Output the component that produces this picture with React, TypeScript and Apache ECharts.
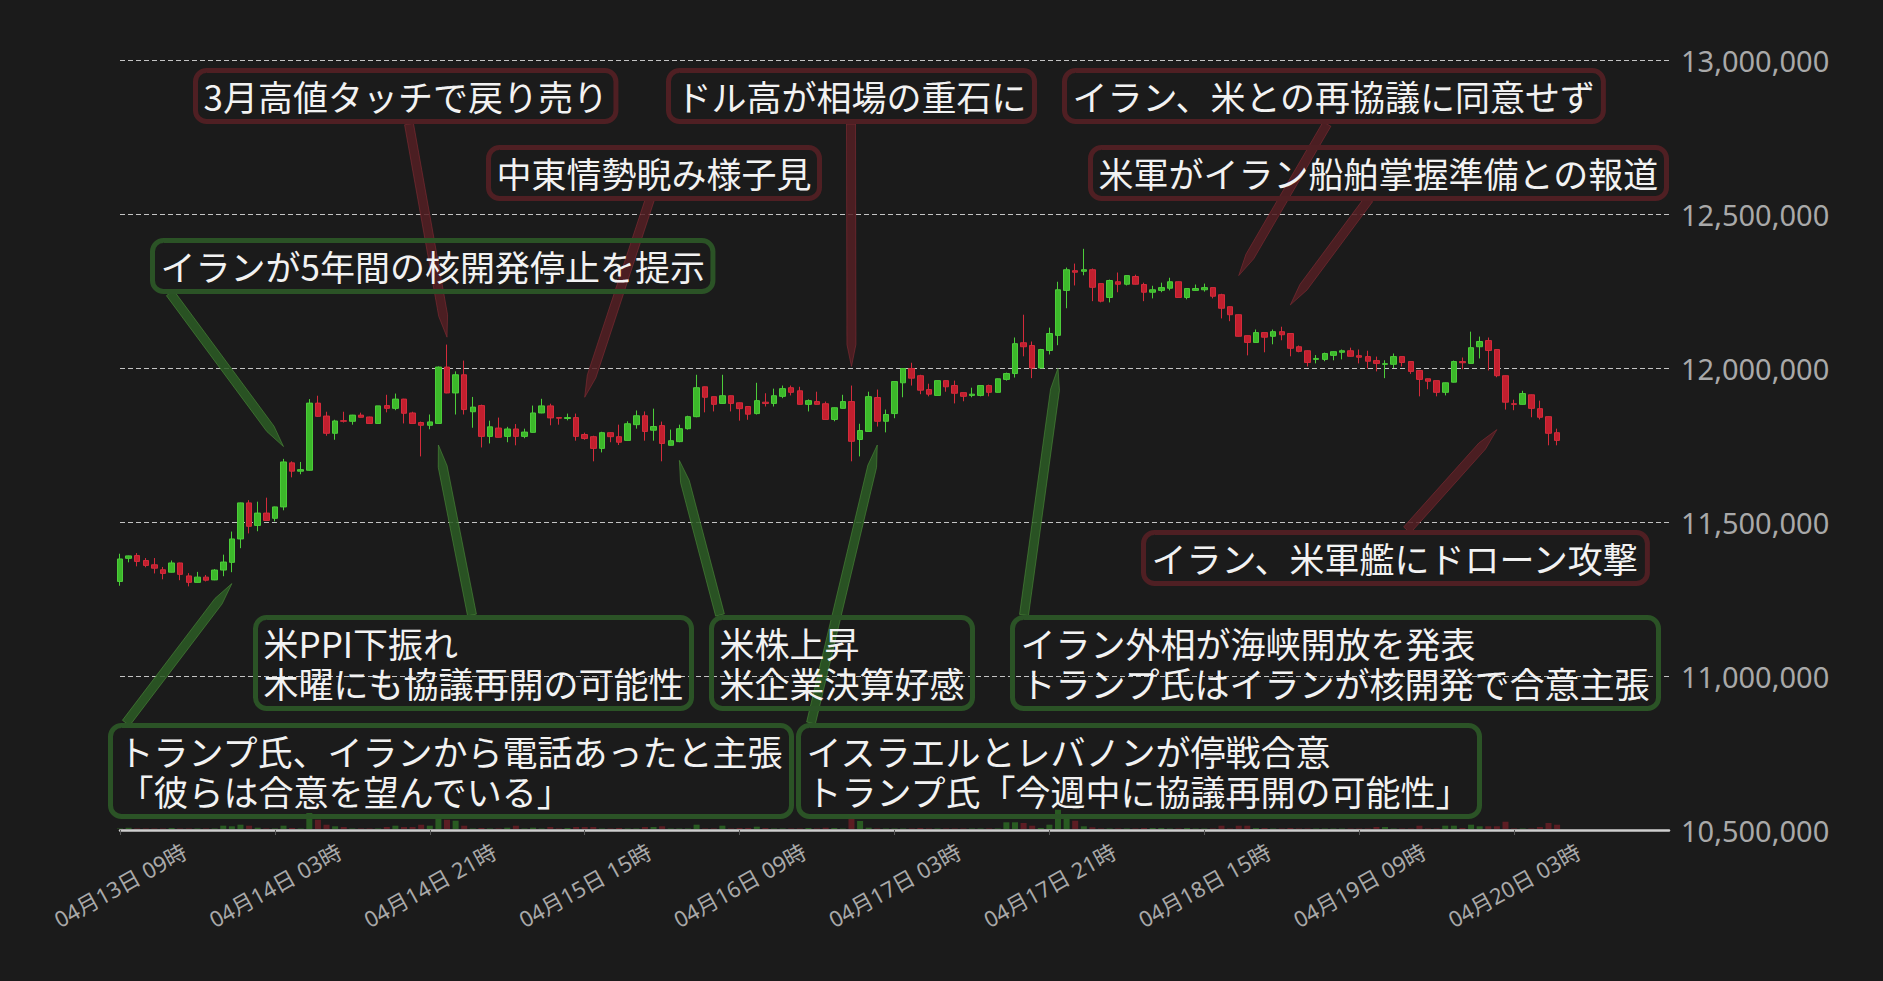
import React, { useEffect, useRef } from "react";
import * as echarts from "echarts";

// ---- time axis (hourly) ----
const MONTH = 4;
const START_DAY = 13;
const START_HOUR = 9;
const AXIS_HOURS = 181;
const LABEL_EVERY = 18;

// ---- OHLC (thousand yen) ----
const PRICE_UNIT = 1000;
const OPEN_K = [
  11307, 11382, 11391, 11375, 11361, 11345, 11337, 11367, 11325, 11304,
  11321, 11312, 11344, 11369, 11445, 11562, 11489, 11529, 11512, 11549,
  11692, 11665, 11668, 11886, 11844, 11788, 11829, 11827, 11847, 11841,
  11820, 11878, 11869, 11899, 11854, 11823, 11814, 11820, 12003, 11919,
  11978, 11858, 11878, 11778, 11805, 11778, 11802, 11778, 11791, 11854,
  11877, 11839, 11836, 11839, 11784, 11777, 11739, 11790, 11777, 11765,
  11816, 11845, 11798, 11813, 11749, 11761, 11803, 11842, 11939, 11907,
  11885, 11910, 11887, 11875, 11852, 11889, 11885, 11908, 11936, 11926,
  11882, 11891, 11884, 11833, 11869, 11891, 11768, 11794, 11904, 11827,
  11852, 11952, 11998, 11975, 11930, 11911, 11959, 11943, 11920, 11911,
  11911, 11943, 11921, 11963, 11982, 12082, 12073, 12000, 12057, 12106,
  12252, 12316, 12314, 12319, 12274, 12229, 12280, 12272, 12297, 12271,
  12246, 12252, 12259, 12280, 12229, 12252, 12254, 12261, 12238, 12199,
  12173, 12105, 12083, 12115, 12103, 12118, 12112, 12069, 12056, 12028,
  12028, 12041, 12051, 12056, 12040, 12037, 12024, 12012, 12012, 12037,
  12021, 11992, 11965, 11959, 11921, 11954, 12021, 12015, 12069, 12089,
  12060, 11975, 11884, 11882, 11913, 11868, 11842, 11790,
];
const CLOSE_K = [
  11380, 11390, 11372, 11359, 11350, 11333, 11367, 11330, 11304, 11321,
  11311, 11344, 11370, 11445, 11562, 11486, 11529, 11505, 11549, 11695,
  11665, 11670, 11886, 11843, 11788, 11828, 11827, 11847, 11840, 11820,
  11877, 11869, 11899, 11853, 11820, 11814, 11825, 12003, 11919, 11978,
  11865, 11873, 11778, 11809, 11775, 11802, 11778, 11792, 11854, 11877,
  11838, 11837, 11839, 11778, 11771, 11739, 11790, 11777, 11759, 11819,
  11845, 11794, 11810, 11755, 11764, 11803, 11842, 11936, 11905, 11882,
  11910, 11885, 11868, 11850, 11894, 11885, 11910, 11933, 11921, 11882,
  11894, 11882, 11833, 11871, 11891, 11762, 11797, 11907, 11827, 11849,
  11956, 11998, 11967, 11928, 11915, 11959, 11939, 11918, 11908, 11915,
  11943, 11921, 11965, 11982, 12079, 12069, 12000, 12060, 12112, 12254,
  12319, 12311, 12319, 12262, 12217, 12284, 12272, 12300, 12272, 12246,
  12254, 12261, 12280, 12229, 12258, 12258, 12261, 12233, 12194, 12173,
  12103, 12083, 12115, 12100, 12118, 12108, 12064, 12054, 12018, 12031,
  12047, 12053, 12056, 12038, 12035, 12022, 12015, 12014, 12037, 12018,
  11989, 11963, 11957, 11921, 11952, 12021, 12017, 12066, 12086, 12057,
  11975, 11889, 11882, 11917, 11869, 11840, 11788, 11765,
];
const LOW_K = [
  11293, 11369, 11356, 11353, 11333, 11314, 11336, 11311, 11291, 11303,
  11307, 11311, 11324, 11337, 11415, 11463, 11470, 11504, 11502, 11538,
  11645, 11655, 11667, 11841, 11780, 11767, 11823, 11816, 11839, 11819,
  11820, 11856, 11863, 11820, 11819, 11713, 11801, 11819, 11918, 11849,
  11849, 11806, 11742, 11755, 11774, 11759, 11749, 11772, 11790, 11853,
  11814, 11816, 11830, 11764, 11767, 11697, 11726, 11759, 11750, 11764,
  11803, 11764, 11764, 11697, 11748, 11759, 11800, 11840, 11856, 11859,
  11884, 11859, 11829, 11832, 11849, 11875, 11875, 11902, 11911, 11881,
  11859, 11881, 11832, 11827, 11868, 11697, 11713, 11794, 11810, 11791,
  11837, 11905, 11943, 11915, 11908, 11910, 11923, 11885, 11892, 11905,
  11908, 11908, 11920, 11959, 11969, 12038, 11967, 12000, 12044, 12074,
  12194, 12268, 12301, 12217, 12213, 12213, 12246, 12268, 12271, 12217,
  12226, 12246, 12252, 12229, 12223, 12251, 12248, 12226, 12161, 12152,
  12102, 12041, 12083, 12051, 12077, 12090, 12038, 12051, 12005, 12015,
  12022, 12025, 12028, 12037, 12015, 11998, 11989, 11967, 12000, 12005,
  11981, 11908, 11931, 11908, 11911, 11953, 11996, 12015, 12031, 11992,
  11970, 11865, 11863, 11881, 11840, 11833, 11749, 11749,
];
const HIGH_K = [
  11397, 11391, 11399, 11383, 11383, 11354, 11375, 11368, 11334, 11338,
  11328, 11347, 11394, 11469, 11563, 11571, 11566, 11579, 11550, 11705,
  11697, 11695, 11899, 11910, 11858, 11832, 11858, 11848, 11855, 11842,
  11877, 11913, 11917, 11900, 11858, 11826, 11849, 12005, 12076, 11989,
  12024, 11906, 11881, 11829, 11839, 11809, 11818, 11803, 11878, 11900,
  11884, 11839, 11852, 11852, 11790, 11780, 11793, 11791, 11816, 11827,
  11862, 11859, 11868, 11826, 11800, 11816, 11845, 11978, 11940, 11907,
  11978, 11911, 11888, 11875, 11952, 11918, 11933, 11943, 11943, 11939,
  11898, 11923, 11891, 11872, 11913, 11943, 11819, 11923, 11930, 11865,
  11956, 12000, 12017, 11978, 11949, 11959, 11960, 11959, 11920, 11936,
  11943, 11946, 11966, 11985, 12099, 12173, 12086, 12062, 12131, 12280,
  12326, 12339, 12387, 12323, 12275, 12287, 12310, 12300, 12303, 12277,
  12267, 12277, 12293, 12281, 12258, 12271, 12274, 12261, 12241, 12200,
  12174, 12106, 12125, 12115, 12125, 12134, 12112, 12073, 12057, 12042,
  12050, 12054, 12060, 12066, 12060, 12056, 12037, 12025, 12047, 12037,
  12021, 11993, 11966, 11959, 11953, 12024, 12034, 12118, 12102, 12099,
  12060, 11976, 11897, 11926, 11914, 11894, 11843, 11803,
];
const VOLUME = [
  5, 13, 5, 5, 5, 5, 10, 5, 5, 5,
  5, 5, 33, 27, 43, 33, 13, 5, 5, 33,
  10, 5, 160, 93, 43, 27, 20, 5, 5, 5,
  5, 20, 33, 20, 20, 43, 33, 133, 93, 83,
  33, 5, 10, 5, 5, 13, 33, 5, 13, 5,
  20, 5, 10, 20, 20, 20, 5, 5, 10, 5,
  5, 20, 20, 27, 5, 5, 5, 43, 5, 5,
  33, 5, 10, 10, 23, 10, 5, 5, 5, 5,
  10, 5, 13, 10, 5, 110, 80, 13, 5, 5,
  5, 5, 5, 10, 5, 5, 5, 5, 5, 5,
  5, 5, 5, 67, 67, 60, 33, 10, 43, 193,
  110, 83, 27, 17, 5, 5, 5, 5, 5, 10,
  10, 10, 5, 5, 10, 5, 5, 5, 33, 5,
  33, 33, 10, 10, 5, 5, 10, 5, 5, 5,
  5, 5, 5, 5, 5, 5, 20, 20, 5, 5,
  5, 33, 5, 5, 33, 33, 10, 43, 27, 27,
  27, 73, 5, 5, 5, 20, 60, 43,
];

// ---- price axis ----
const Y_MIN = 10500000;
const Y_MAX = 13000000;
const Y_STEP = 500000;
const VOLUME_AXIS_MAX = 1000;

// ---- annotations: target = [hour index, price] ----
type Note = {
  text: string;
  tone: "up" | "down";
  box: [number, number];
  base: [number, number];
  target: [number, number];
};
const NOTES: Note[] = [
  { text: "3月高値タッチで戻り売り", tone: "down", box: [193, 68], base: [409, 124], target: [38, 12100000] },
  { text: "中東情勢睨み様子見", tone: "down", box: [486, 145], base: [650, 199], target: [54, 11905000] },
  { text: "ドル高が相場の重石に", tone: "down", box: [666, 68], base: [851, 124], target: [85, 12005000] },
  { text: "イラン、米との再協議に同意せず", tone: "down", box: [1062, 68], base: [1327, 124], target: [130, 12300000] },
  { text: "米軍がイラン船舶掌握準備との報道", tone: "down", box: [1088, 145], base: [1369, 199], target: [136, 12205000] },
  { text: "イラン、米軍艦にドローン攻撃", tone: "down", box: [1141, 530], base: [1407, 530], target: [160, 11800000] },
  { text: "イランが5年間の核開発停止を提示", tone: "up", box: [150, 238], base: [170, 293], target: [19, 11745000] },
  { text: "米PPI下振れ\n木曜にも協議再開の可能性", tone: "up", box: [253, 615], base: [472, 615], target: [37, 11750000] },
  { text: "米株上昇\n米企業決算好感", tone: "up", box: [709, 615], base: [720, 615], target: [65, 11700000] },
  { text: "イラン外相が海峡開放を発表\nトランプ氏はイランが核開発で合意主張", tone: "up", box: [1010, 615], base: [1024, 615], target: [109, 12000000] },
  { text: "トランプ氏、イランから電話あったと主張\n「彼らは合意を望んでいる」", tone: "up", box: [108, 723], base: [126, 723], target: [13, 11300000] },
  { text: "イスラエルとレバノンが停戦合意\nトランプ氏「今週中に協議再開の可能性」", tone: "up", box: [796, 723], base: [811, 723], target: [88, 11750000] },
];

const BG = "#1b1b1b";
const UP = "#3cb82a";
const UP_BORDER = "#4ccd3a";
const DOWN = "#c21f2e";
const DOWN_BORDER = "#d42b3b";
const TONES = {
  up: { border: "#2b5326", fill: "rgba(44,92,37,0.85)", stroke: "rgba(80,150,60,0.55)" },
  down: { border: "#4f1f23", fill: "rgba(84,30,35,0.85)", stroke: "rgba(140,45,55,0.55)" },
};

const pad2 = (n: number) => (n < 10 ? "0" + n : String(n));
const CATEGORIES: string[] = [];
for (let i = 0; i < AXIS_HOURS; i++) {
  const t = START_HOUR + i;
  const d = START_DAY + Math.floor(t / 24);
  CATEGORIES.push(`${pad2(MONTH)}月${pad2(d)}日 ${pad2(t % 24)}時`);
}

const showTick = (i: number) => i % LABEL_EVERY === 0 && i < AXIS_HOURS - 1;

function buildOption() {
  const candles = OPEN_K.map((o, i) => [
    o * PRICE_UNIT,
    CLOSE_K[i] * PRICE_UNIT,
    LOW_K[i] * PRICE_UNIT,
    HIGH_K[i] * PRICE_UNIT,
  ]);
  const vols = VOLUME.map((v, i) => ({
    value: v,
    itemStyle: {
      color: CLOSE_K[i] >= OPEN_K[i] ? "rgba(60,170,45,0.45)" : "rgba(200,35,50,0.38)",
    },
  }));
  return {
    animation: false,
    backgroundColor: BG,
    grid: [
      { left: 120, right: 214, top: 60, bottom: 151, containLabel: false, outerBoundsMode: "none" },
      { left: 120, right: 214, bottom: 152, height: 100, containLabel: false, outerBoundsMode: "none" },
    ],
    xAxis: [
      {
        type: "category",
        gridIndex: 0,
        data: CATEGORIES,
        boundaryGap: false,
        z: 10,
        axisLine: { show: true, lineStyle: { color: "#cfcfcf", width: 2.5 } },
        axisTick: { show: true, interval: showTick, length: 5, lineStyle: { color: "#555555", width: 1 } },
        axisLabel: {
          interval: showTick,
          rotate: 29,
          align: "center",
          verticalAlign: "middle",
          margin: 55,
          color: "#a9a9a9",
          fontSize: 22,
          fontFamily: "'Noto Sans', 'Noto Sans CJK JP', sans-serif",
        },
        splitLine: { show: false },
      },
      {
        type: "category",
        gridIndex: 1,
        data: CATEGORIES,
        boundaryGap: false,
        show: false,
      },
    ],
    yAxis: [
      {
        type: "value",
        gridIndex: 0,
        position: "right",
        min: Y_MIN,
        max: Y_MAX,
        interval: Y_STEP,
        axisLine: { show: false },
        axisTick: { show: false },
        axisLabel: {
          margin: 12,
          color: "#a9a9a9",
          fontSize: 29,
          fontFamily: "'Noto Sans', sans-serif",
          formatter: (v: number) => v.toLocaleString("en-US"),
        },
        splitLine: { show: true, lineStyle: { color: "#c4c4c4", width: 1, type: [5, 3] } },
      },
      {
        type: "value",
        gridIndex: 1,
        min: 0,
        max: VOLUME_AXIS_MAX,
        show: false,
        splitLine: { show: false },
      },
    ],
    series: [
      {
        type: "bar",
        xAxisIndex: 1,
        yAxisIndex: 1,
        data: vols,
        barWidth: 6,
        z: 1,
      },
      {
        type: "candlestick",
        xAxisIndex: 0,
        yAxisIndex: 0,
        data: candles,
        barWidth: 6,
        clip: true,
        z: 3,
        itemStyle: {
          color: UP,
          color0: DOWN,
          borderColor: UP_BORDER,
          borderColor0: DOWN_BORDER,
          borderWidth: 1,
        },
      },
    ],
  };
}

function buildGraphic(chart: any) {
  const els: any[] = [];
  NOTES.forEach((n) => {
    const tone = TONES[n.tone];
    const p = chart.convertToPixel({ gridIndex: 0 }, [n.target[0], n.target[1]]);
    const tx = p[0];
    const ty = p[1];
    const [bx, by] = n.base;
    const dx = tx - bx;
    const dy = ty - by;
    const len = Math.hypot(dx, dy) || 1;
    const ux = dx / len;
    const uy = dy / len;
    const nx = -uy;
    const ny = ux;
    const hw = 4.5;
    const taper = 22;
    const mx = tx - ux * taper;
    const my = ty - uy * taper;
    els.push({
      type: "polygon",
      z: 50,
      silent: true,
      shape: {
        points: [
          [bx + nx * hw, by + ny * hw],
          [mx + nx * hw, my + ny * hw],
          [tx, ty],
          [mx - nx * hw, my - ny * hw],
          [bx - nx * hw, by - ny * hw],
        ],
      },
      style: { fill: tone.fill, stroke: tone.stroke, lineWidth: 1 },
    });
  });
  NOTES.forEach((n) => {
    const tone = TONES[n.tone];
    els.push({
      type: "text",
      z: 60,
      silent: true,
      x: n.box[0] + 2.5,
      y: n.box[1] + 2.5,
      style: {
        text: n.text,
        fill: "#f2f2f2",
        fontSize: 35,
        fontFamily: "'Noto Sans CJK JP', sans-serif",
        lineHeight: 40,
        align: "left",
        verticalAlign: "top",
        padding: [5, 8, 6, 8],
        borderColor: tone.border,
        borderWidth: 5,
        borderRadius: 11,
      },
    });
  });
  return els;
}

export default function App() {
  const ref = useRef<HTMLDivElement>(null);
  useEffect(() => {
    if (!ref.current) return;
    document.body.style.background = BG;
    const chart = echarts.init(ref.current, null, { renderer: "svg" });
    chart.setOption(buildOption() as any);
    chart.setOption({ graphic: buildGraphic(chart) } as any);
    return () => chart.dispose();
  }, []);
  return (
    <div
      ref={ref}
      style={{ position: "fixed", left: 0, top: 0, width: 1883, height: 981, background: BG }}
    />
  );
}
